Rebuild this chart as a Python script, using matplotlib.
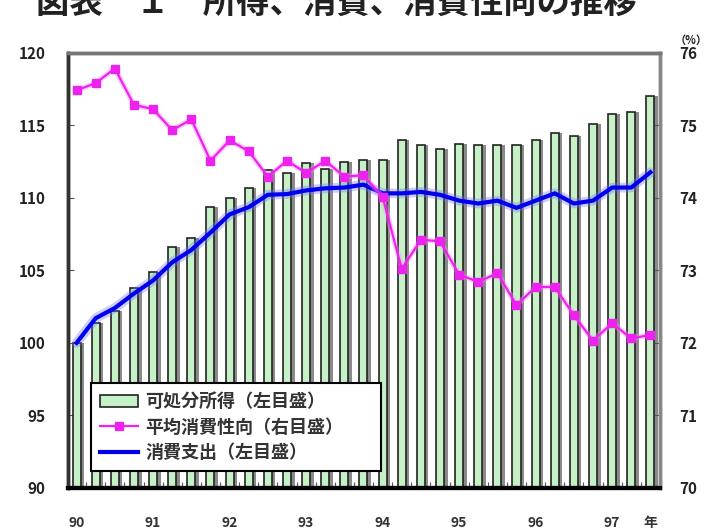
import matplotlib.pyplot as plt

plt.rcParams['font.family'] = ['Noto Sans CJK JP', 'DejaVu Sans']

# quarterly, 1990 Q1 - 1997 Q3 (1990 Q1 = 100)
quarters = list(range(31))
income = [100.0, 101.4, 102.2, 103.75, 104.9, 106.6, 107.2, 109.35,
          110.0, 110.65, 111.9, 111.7, 112.4, 112.0, 112.45, 112.6,
          112.6, 114.0, 113.6, 113.35, 113.7, 113.6, 113.6, 113.6,
          114.0, 114.45, 114.25, 115.07, 115.75, 115.9, 117.0]
spending = [100.0, 101.7, 102.4, 103.4, 104.3, 105.55, 106.4, 107.6,
            108.85, 109.35, 110.2, 110.25, 110.5, 110.65, 110.7, 110.9,
            110.3, 110.3, 110.4, 110.2, 109.8, 109.6, 109.8, 109.3,
            109.8, 110.3, 109.6, 109.8, 110.7, 110.7, 111.75]
propensity = [75.48, 75.58, 75.78, 75.28, 75.22, 74.93, 75.08, 74.51,
              74.79, 74.64, 74.29, 74.51, 74.34, 74.51, 74.29, 74.31,
              74.01, 73.02, 73.42, 73.40, 72.94, 72.84, 72.96, 72.52,
              72.77, 72.77, 72.38, 72.03, 72.27, 72.06, 72.11]
year_pos = [0, 4, 8, 12, 16, 20, 24, 28, 30]
year_labels = ['90', '91', '92', '93', '94', '95', '96', '97', '年']

fig = plt.figure(figsize=(7.11, 5.31), dpi=100)
ax = fig.add_axes([0.0956, 0.081, 0.8326, 0.820])
ax2 = ax.twinx()

# bars with a grey shadow on the right side
ax.bar([q + 0.17 for q in quarters], income, width=0.45, bottom=0,
       color='#8a8a8a', edgecolor='none', zorder=1)
bars = ax.bar(quarters, income, width=0.42, color='#c6f0c6',
              edgecolor='#222222', linewidth=1.2, zorder=2,
              label='可処分所得（左目盛）')

ax.plot(quarters, spending, color='#7070ff', lw=7, alpha=0.35, zorder=3,
        solid_capstyle='round')
line_sp, = ax.plot(quarters, spending, color='#0000ee', lw=3, zorder=4,
                   label='消費支出（左目盛）')

ax2.plot(quarters, propensity, color='#ff88ff', lw=4, alpha=0.4)
line_pr, = ax2.plot(quarters, propensity, color='#ee22ee', lw=1.6,
                    marker='s', markersize=6, markeredgecolor='#ee22ee',
                    label='平均消費性向（右目盛）')

ax.set_xlim(-0.45, 30.5)
ax.set_ylim(90, 120)
ax2.set_ylim(70, 76)
ax.set_yticks([90, 95, 100, 105, 110, 115, 120])
ax2.set_yticks([70, 71, 72, 73, 74, 75, 76])

# small inward ticks between quarters, year labels underneath
ax.set_xticks([q + 0.5 for q in quarters[:-1]])
ax.set_xticklabels([])
ax.set_xticks(year_pos, minor=True)
ax.set_xticklabels(year_labels, minor=True, fontsize=10, fontweight='bold',
                   color='#333333')
ax.tick_params(axis='x', which='major', direction='in', length=4,
               color='#555555')
ax.tick_params(axis='x', which='minor', length=0, pad=20)
ax.tick_params(axis='y', direction='in', length=4, color='#555555',
               labelsize=11, pad=16)
ax2.tick_params(axis='y', direction='in', length=4, color='#555555',
                labelsize=11, pad=14)
for lab in ax.get_yticklabels() + ax2.get_yticklabels():
    lab.set_fontweight('bold')
    lab.set_color('#222222')

for a in (ax, ax2):
    a.spines['top'].set_color('#777777')
    a.spines['top'].set_linewidth(2.5)
    a.spines['right'].set_color('#888888')
    a.spines['right'].set_linewidth(2.5)
    a.spines['left'].set_color('#333333')
    a.spines['left'].set_linewidth(2.5)
    a.spines['bottom'].set_color('#000000')
    a.spines['bottom'].set_linewidth(3)

leg = ax2.legend([bars, line_pr, line_sp],
                 ['可処分所得（左目盛）', '平均消費性向（右目盛）', '消費支出（左目盛）'],
                 loc='lower left', bbox_to_anchor=(0.024, 0.018, 0.52, 0.225),
                 mode='expand', fancybox=False, framealpha=1,
                 edgecolor='#000000', handlelength=2.1, handletextpad=0.4,
                 borderpad=0.5, labelspacing=0.35,
                 prop={'size': 13, 'weight': 'bold'})
leg.get_frame().set_linewidth(1.5)
leg.set_zorder(10)
for t in leg.get_texts():
    t.set_color('#333333')

# heading sits partly above the top edge of the figure
fig.text(36 / 711, 1 - 13 / 531, '図表　１　所得、消費、消費性向の推移',
         fontsize=24, fontweight='bold', va='baseline', ha='left',
         color='#222222')
fig.text(0.972, 1 - 40 / 531, '（%）', fontsize=8, fontweight='bold',
         va='center', ha='center', color='#222222')

fig.savefig('out.png', dpi=100)
